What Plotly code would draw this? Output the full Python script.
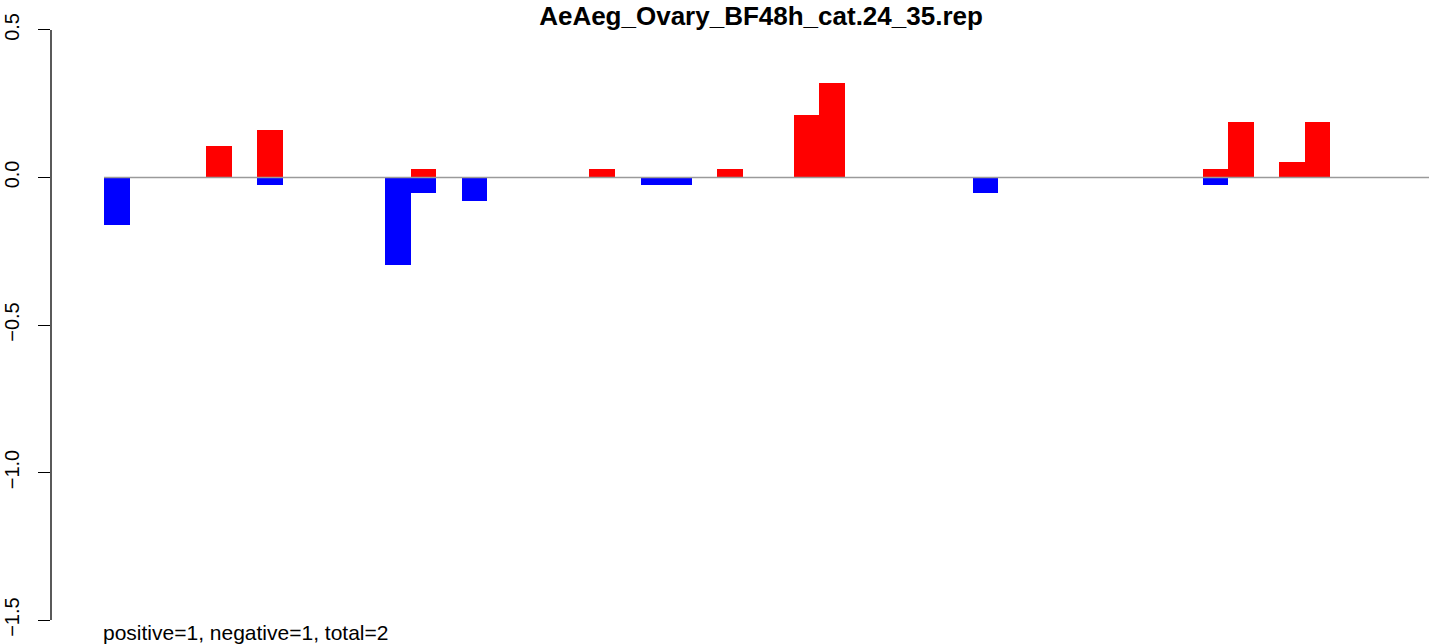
import plotly.graph_objects as go

# ---- data ----
n_slots = 52
slots = list(range(n_slots))
pos_idx = [4, 6, 12, 19, 24, 27, 28, 43, 44, 46, 47]
pos_val = [0.107, 0.161, 0.027, 0.027, 0.027, 0.213, 0.321, 0.027, 0.187, 0.054, 0.187]
neg_idx = [0, 6, 11, 12, 14, 21, 22, 34, 43]
neg_val = [-0.161, -0.027, -0.295, -0.054, -0.081, -0.027, -0.027, -0.054, -0.027]
y_ticks = [-1.5, -1.0, -0.5, 0.0, 0.5]
y_ticktext = ["\u22121.5", "\u22121.0", "\u22120.5", "0.0", "0.5"]
title_text = "AeAeg_Ovary_BF48h_cat.24_35.rep"
footer_text = "positive=1, negative=1, total=2"

W, H = 1429, 644
FONT = "Liberation Sans, Arial, sans-serif"
ML, MT, MB = 51, 24, 18
plot_w, plot_h = W - ML, H - MT - MB

fig = go.Figure()
fig.add_trace(go.Bar(x=[i + 0.5 for i in pos_idx], y=pos_val, width=1,
                     marker=dict(color="#FF0000", line=dict(width=0)),
                     showlegend=False, hoverinfo="skip"))
fig.add_trace(go.Bar(x=[i + 0.5 for i in neg_idx], y=neg_val, width=1,
                     marker=dict(color="#0000FF", line=dict(width=0)),
                     showlegend=False, hoverinfo="skip"))

x_lo, x_hi = -2.074, 51.86
fig.update_layout(
    width=W, height=H,
    margin=dict(l=ML, r=0, t=MT, b=MB),
    paper_bgcolor="white", plot_bgcolor="white",
    barmode="overlay", bargap=0,
    xaxis=dict(range=[x_lo, x_hi], visible=False, fixedrange=True),
    yaxis=dict(range=[-1.52, 0.52], showgrid=False, zeroline=False,
               showline=False, ticks="outside", ticklen=12, tickwidth=1.3,
               tickcolor="black", tickvals=y_ticks, ticktext=y_ticktext,
               tickangle=-90, ticklabelstandoff=11,
               tickfont=dict(family=FONT, size=20, color="black"),
               fixedrange=True),
    title=dict(text=title_text, x=(761 - ML) / plot_w, xref="paper",
               xanchor="center", y=1 - 16 / H, yref="container", yanchor="middle",
               font=dict(family=FONT, size=26, color="black", weight="bold")),
    shapes=[
        dict(type="line", xref="paper", yref="y", x0=0, x1=0, y0=-1.5, y1=0.5,
             line=dict(color="black", width=1.3)),
        dict(type="line", xref="x", yref="y", x0=0, x1=x_hi, y0=0, y1=0,
             line=dict(color="#9a9a9a", width=1.5), layer="above"),
    ],
    annotations=[
        dict(text=footer_text, xref="paper", yref="paper",
             x=(101 - ML) / plot_w, y=((H - MB) - 632) / plot_h,
             xanchor="left", yanchor="middle", showarrow=False,
             font=dict(family=FONT, size=21, color="black")),
    ],
)

fig.write_html("out.html", config={"displayModeBar": False},
               post_script="document.body.style.margin='0';document.body.style.overflow='hidden';")
